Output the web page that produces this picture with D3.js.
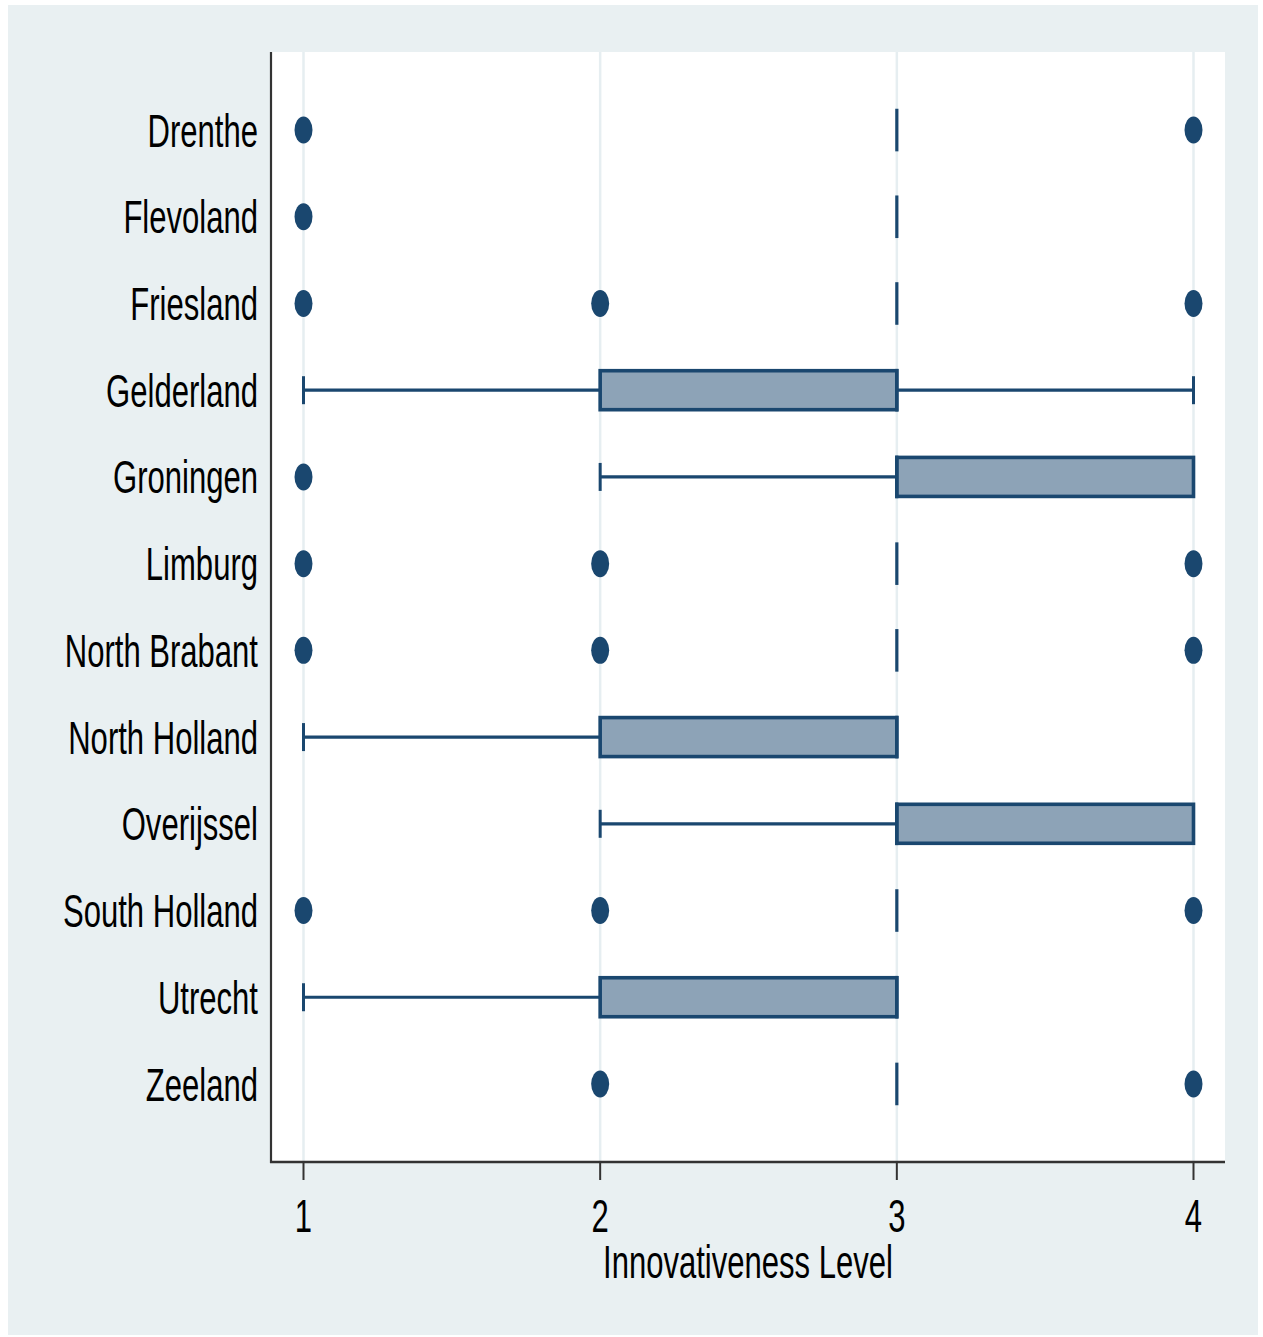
<!DOCTYPE html>
<html>
<head>
<meta charset="utf-8">
<script src="https://cdn.jsdelivr.net/npm/d3@7"></script>
<style>
  html, body { margin: 0; padding: 0; background: #ffffff; }
  svg { display: block; }
  text { font-family: "Liberation Sans", Arial, sans-serif; fill: #000; }
</style>
</head>
<body>
<svg id="chart" width="1263" height="1337"></svg>
<script>
// Provinces, top to bottom
const provinces = ["Drenthe", "Flevoland", "Friesland", "Gelderland", "Groningen", "Limburg",
  "North Brabant", "North Holland", "Overijssel", "South Holland", "Utrecht", "Zeeland"];

// Box statistics for innovativeness level per province
const lowerQuartile = [3, 3, 3, 2, 3, 3, 3, 2, 3, 3, 2, 3];
const medianValue   = [3, 3, 3, 3, 3, 3, 3, 3, 3, 3, 3, 3];
const upperQuartile = [3, 3, 3, 3, 4, 3, 3, 3, 4, 3, 3, 3];
const lowerWhisker  = [3, 3, 3, 1, 2, 3, 3, 1, 2, 3, 1, 3];
const upperWhisker  = [3, 3, 3, 4, 4, 3, 3, 3, 4, 3, 3, 3];
const outsideValues = [[1, 4], [1], [1, 2, 4], [], [1], [1, 2, 4], [1, 2, 4], [], [], [1, 2, 4], [], [2, 4]];

const xTicks = [1, 2, 3, 4];
const xTitle = "Innovativeness Level";

const navy = "#1a476f";
const boxFill = "#8da3b7";
const gridColor = "#e6eef1";
const squeeze = 0.675; // condensed lettering

const svg = d3.select("#chart");

// outer graph region
svg.append("rect").attr("x", 8).attr("y", 5).attr("width", 1250).attr("height", 1330)
  .attr("fill", "#e9f0f2");

const plot = { left: 271, right: 1225, top: 52, bottom: 1162 };

svg.append("rect").attr("x", plot.left).attr("y", plot.top)
  .attr("width", plot.right - plot.left).attr("height", plot.bottom - plot.top)
  .attr("fill", "#ffffff");

const x = d3.scaleLinear().domain([1, 4]).range([303.5, 1193.5]);
const y = d3.scalePoint().domain(provinces).range([plot.top, plot.bottom]).padding(0.9);

// vertical grid lines
svg.append("g").selectAll("line").data(xTicks).join("line")
  .attr("x1", d => x(d)).attr("x2", d => x(d))
  .attr("y1", plot.top).attr("y2", plot.bottom)
  .attr("stroke", gridColor).attr("stroke-width", 2.5);

const rows = provinces.map((p, i) => ({
  name: p, q1: lowerQuartile[i], med: medianValue[i], q3: upperQuartile[i],
  lo: lowerWhisker[i], hi: upperWhisker[i], out: outsideValues[i]
}));

const boxH = 39, capH = 28;
const g = svg.append("g");

rows.forEach(r => {
  const cy = y(r.name);
  // whiskers
  if (r.lo < r.q1) {
    g.append("line").attr("x1", x(r.lo)).attr("x2", x(r.q1)).attr("y1", cy).attr("y2", cy)
      .attr("stroke", navy).attr("stroke-width", 3.2);
    g.append("line").attr("x1", x(r.lo)).attr("x2", x(r.lo)).attr("y1", cy - capH / 2).attr("y2", cy + capH / 2)
      .attr("stroke", navy).attr("stroke-width", 3);
  }
  if (r.hi > r.q3) {
    g.append("line").attr("x1", x(r.q3)).attr("x2", x(r.hi)).attr("y1", cy).attr("y2", cy)
      .attr("stroke", navy).attr("stroke-width", 3.2);
    g.append("line").attr("x1", x(r.hi)).attr("x2", x(r.hi)).attr("y1", cy - capH / 2).attr("y2", cy + capH / 2)
      .attr("stroke", navy).attr("stroke-width", 3);
  }
  // interquartile box
  g.append("rect").attr("x", x(r.q1)).attr("y", cy - boxH / 2)
    .attr("width", x(r.q3) - x(r.q1)).attr("height", boxH)
    .attr("fill", boxFill).attr("stroke", navy).attr("stroke-width", 3.6);
  // median
  g.append("line").attr("x1", x(r.med)).attr("x2", x(r.med))
    .attr("y1", cy - boxH / 2 - 1.8).attr("y2", cy + boxH / 2 + 1.8)
    .attr("stroke", navy).attr("stroke-width", 3.2);
  // outside values
  r.out.forEach(v => {
    g.append("ellipse").attr("cx", x(v)).attr("cy", cy).attr("rx", 9).attr("ry", 13.5)
      .attr("fill", navy);
  });
});

// category labels
svg.append("g").selectAll("text").data(provinces).join("text")
  .attr("transform", d => `translate(258,${y(d)}) scale(${squeeze},1)`)
  .attr("text-anchor", "end").attr("dy", "0.36em")
  .style("font-size", "46px").text(d => d);

// axes lines
svg.append("line").attr("x1", plot.left).attr("x2", plot.left)
  .attr("y1", plot.top).attr("y2", plot.bottom + 1)
  .attr("stroke", "#333").attr("stroke-width", 2.2);
svg.append("line").attr("x1", plot.left - 1).attr("x2", plot.right)
  .attr("y1", plot.bottom).attr("y2", plot.bottom)
  .attr("stroke", "#333").attr("stroke-width", 2.5);

// x ticks and labels
const tickG = svg.append("g").selectAll("g").data(xTicks).join("g");
tickG.append("line").attr("x1", d => x(d)).attr("x2", d => x(d))
  .attr("y1", plot.bottom).attr("y2", plot.bottom + 18)
  .attr("stroke", "#333").attr("stroke-width", 2);
tickG.append("text")
  .attr("transform", d => `translate(${x(d)},1232) scale(${squeeze},1)`)
  .attr("text-anchor", "middle").style("font-size", "46px").text(d => d);

svg.append("text")
  .attr("transform", `translate(${(plot.left + plot.right) / 2},1278) scale(${squeeze},1)`)
  .attr("text-anchor", "middle").style("font-size", "46px").text(xTitle);
</script>
</body>
</html>
